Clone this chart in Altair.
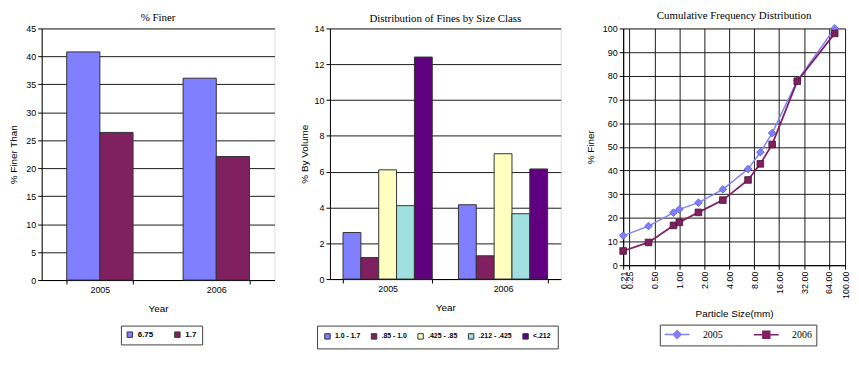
import altair as alt
import pandas as pd

# ---------------- data ----------------
years = ["2005", "2006"]

finer_series = ["6.75", "1.7"]
finer_675 = [40.8, 36.1]
finer_17 = [26.4, 22.1]

size_classes = ["1.0 - 1.7", ".85 - 1.0", ".425 - .85", ".212 - .425", "<.212"]
vol_2005 = [2.6, 1.2, 6.1, 4.1, 12.4]
vol_2006 = [4.15, 1.3, 7.0, 3.65, 6.15]

particle_sizes = [0.21, 0.425, 0.85, 1.0, 1.7, 3.35, 6.75, 9.5, 13.2, 26.5, 75.0]
cum_2005 = [12.5, 16.5, 22.2, 23.6, 26.4, 32.0, 40.6, 47.7, 55.8, 78.0, 100.0]
cum_2006 = [6.0, 9.6, 16.8, 18.1, 22.3, 27.5, 36.0, 42.8, 51.0, 77.7, 97.9]
size_ticks = [0.21, 0.25, 0.5, 1, 2, 4, 8, 16, 32, 64, 100]

finer_colors = ["#8080ff", "#802060"]
class_colors = ["#8080ff", "#802060", "#ffffc0", "#a0e0e0", "#600080"]
line_colors = ["#8080ff", "#802060"]
marker_strokes = ["#5a5ad0", "#4a1035"]

SANS = "Liberation Sans"
SERIF = "Liberation Serif"
PAD = "\u00a0" * 9

axis_common = dict(
    labelFont=SANS, labelFontSize=9, labelColor="black",
    titleFont=SANS, titleFontSize=10, titleFontWeight="normal", titleColor="black",
    domainColor="black", tickColor="black", tickSize=4,
)
grid_style = dict(grid=True, gridColor="#1a1a1a", gridWidth=1)

legend_bar = dict(
    orient="none", direction="horizontal", title=None,
    strokeColor="#404040", fillColor="white",
    symbolType="square", symbolSize=30, symbolStrokeColor="#333333",
    symbolStrokeWidth=1, symbolOpacity=1, labelFont=SANS,
    labelFontWeight="bold", labelColor="black", labelOffset=4,
)


def title(text, offset=2):
    return alt.TitleParams(text, font=SERIF, fontSize=11, fontWeight="normal",
                           color="black", anchor="middle", offset=offset)


# ---------------- chart 1: % Finer ----------------
df1 = pd.DataFrame({
    "Year": years + years,
    "Series": [finer_series[0]] * 2 + [finer_series[1]] * 2,
    "Value": finer_675 + finer_17,
})

c1 = alt.Chart(df1).mark_bar(stroke="#333333", strokeWidth=1).encode(
    x=alt.X("Year:N", sort=years,
            scale=alt.Scale(paddingInner=0.43, paddingOuter=0.215),
            axis=alt.Axis(title="Year", labelAngle=0, tickBand="extent", grid=False,
                          labelPadding=2, titlePadding=9, **axis_common)),
    xOffset=alt.XOffset("Series:N", sort=finer_series,
                        scale=alt.Scale(domain=finer_series, paddingInner=0, paddingOuter=0)),
    y=alt.Y("Value:Q", scale=alt.Scale(domain=[0, 45], nice=False),
            axis=alt.Axis(title="% Finer Than", values=list(range(0, 46, 5)),
                          labelPadding=2, minExtent=21, maxExtent=21, titlePadding=2,
                          **grid_style, **axis_common)),
    color=alt.Color("Series:N", scale=alt.Scale(domain=finer_series, range=finer_colors),
                    legend=alt.Legend(legendX=80, legendY=300, columnPadding=19,
                                      padding=5, labelFontSize=8,
                                      labelExpr="datum.value == '1.7' ? datum.label + '" + PAD + "' : datum.label",
                                      **legend_bar)),
).properties(width=235, height=254, title=title("% Finer"))

# ---------------- chart 2: Distribution of fines ----------------
df2 = pd.DataFrame({
    "Year": ["2005"] * len(size_classes) + ["2006"] * len(size_classes),
    "Class": size_classes + size_classes,
    "Value": vol_2005 + vol_2006,
})

c2 = alt.Chart(df2).mark_bar(stroke="#333333", strokeWidth=1).encode(
    x=alt.X("Year:N", sort=years,
            scale=alt.Scale(paddingInner=0.227, paddingOuter=0.1135),
            axis=alt.Axis(title="Year", labelAngle=0, tickBand="extent", grid=False,
                          labelPadding=2, titlePadding=9, **axis_common)),
    xOffset=alt.XOffset("Class:N", sort=size_classes,
                        scale=alt.Scale(domain=size_classes, paddingInner=0, paddingOuter=0)),
    y=alt.Y("Value:Q", scale=alt.Scale(domain=[0, 14], nice=False),
            axis=alt.Axis(title="% By Volume", values=list(range(0, 15, 2)),
                          labelPadding=2, minExtent=19, maxExtent=19, titlePadding=2,
                          **grid_style, **axis_common)),
    fill=alt.Fill("Class:N", scale=alt.Scale(domain=size_classes, range=class_colors),
                  legend=alt.Legend(legendX=278, legendY=300, columnPadding=8,
                                    padding=7, labelFontSize=7, **legend_bar)),
).properties(width=233, height=253, title=title("Distribution of Fines by Size Class", 0))

# ---------------- chart 3: cumulative distribution ----------------
df3 = pd.DataFrame({
    "Size": particle_sizes + particle_sizes,
    "Pct": cum_2005 + cum_2006,
    "Year": ["2005"] * len(particle_sizes) + ["2006"] * len(particle_sizes),
})

x3 = alt.X("Size:Q", scale=alt.Scale(type="log", domain=[0.21, 100], nice=False),
           axis=alt.Axis(title="Particle Size(mm)", values=size_ticks, format=".2f",
                         labelAngle=270, labelAlign="right", labelBaseline="middle",
                         labelOverlap=False, labelFlush=False, labelPadding=2,
                         titlePadding=10, **grid_style, **axis_common))
y3 = alt.Y("Pct:Q", scale=alt.Scale(domain=[0, 100], nice=False),
           axis=alt.Axis(title="% Finer", values=list(range(0, 101, 10)),
                         labelPadding=2, minExtent=26, maxExtent=26, titlePadding=2,
                         **grid_style, **axis_common))

base3 = alt.Chart(df3).encode(x=x3, y=y3)
d05 = base3.transform_filter(alt.datum.Year == "2005")
d06 = base3.transform_filter(alt.datum.Year == "2006")

line05 = d05.mark_line(strokeWidth=1.5, color=line_colors[0])
line06 = d06.mark_line(strokeWidth=1.8, color=line_colors[1])
pts05 = d05.mark_point(shape="diamond", filled=True, size=60, stroke=marker_strokes[0],
                       strokeWidth=0.8, fill=line_colors[0], opacity=1)
pts06 = d06.mark_point(shape="square", filled=True, size=45, stroke=marker_strokes[1],
                       strokeWidth=0.8, fill=line_colors[1], opacity=1)

# legend glyphs: a 25px line with a (solid, ring-filled) diamond / square on it
# (symbol size 100 -> 5px per unit)
sym05 = ("M-2.5,0L2.5,0M0,-0.8L0.8,0L0,0.8L-0.8,0Z"
         "M0,-0.55L0.55,0L0,0.55L-0.55,0Z"
         "M0,-0.3L0.3,0L0,0.3L-0.3,0Z"
         "M0,-0.1L0.1,0L0,0.1L-0.1,0Z")
sym06 = ("M-2.5,0L2.5,0M-0.7,-0.7L0.7,-0.7L0.7,0.7L-0.7,0.7Z"
         "M-0.5,-0.5L0.5,-0.5L0.5,0.5L-0.5,0.5Z"
         "M-0.3,-0.3L0.3,-0.3L0.3,0.3L-0.3,0.3Z"
         "M-0.1,-0.1L0.1,-0.1L0.1,0.1L-0.1,0.1Z")
legend3 = alt.Legend(orient="none", legendX=624, legendY=299, direction="horizontal",
                     title=None, strokeColor="#404040", fillColor="white", padding=4,
                     symbolSize=100, symbolStrokeWidth=1.5, symbolOpacity=1,
                     symbolOffset=7.5,
                     labelFont=SERIF, labelFontSize=10, labelColor="black",
                     labelOffset=20, columnPadding=28,
                     labelExpr="datum.value == '2006' ? datum.label + '" + PAD + "' : datum.label")
# legend-only layer: no rows survive the filter, the legend comes from the fixed domains
legend_layer = base3.transform_filter("datum.Pct < -1000").mark_point(
    filled=False, size=100, opacity=1).encode(
    stroke=alt.Stroke("Year:N", scale=alt.Scale(domain=years, range=line_colors), legend=legend3),
    shape=alt.Shape("Year:N", scale=alt.Scale(domain=years, range=[sym05, sym06]), legend=legend3),
)

c3 = alt.layer(line05, line06, pts05, pts06, legend_layer).properties(
    width=224, height=239, title=title("Cumulative Frequency Distribution"))

chart = alt.hconcat(c1, c2, c3, spacing=23).resolve_scale(
    xOffset="independent"
).properties(
    padding={"left": 0, "top": 0, "right": 0, "bottom": 0}
).configure_view(
    fill="#e0e0e0", stroke="#808080", strokeWidth=1
).configure(background="white")

chart.save("out.html", embed_options={"renderer": "svg", "actions": False})
